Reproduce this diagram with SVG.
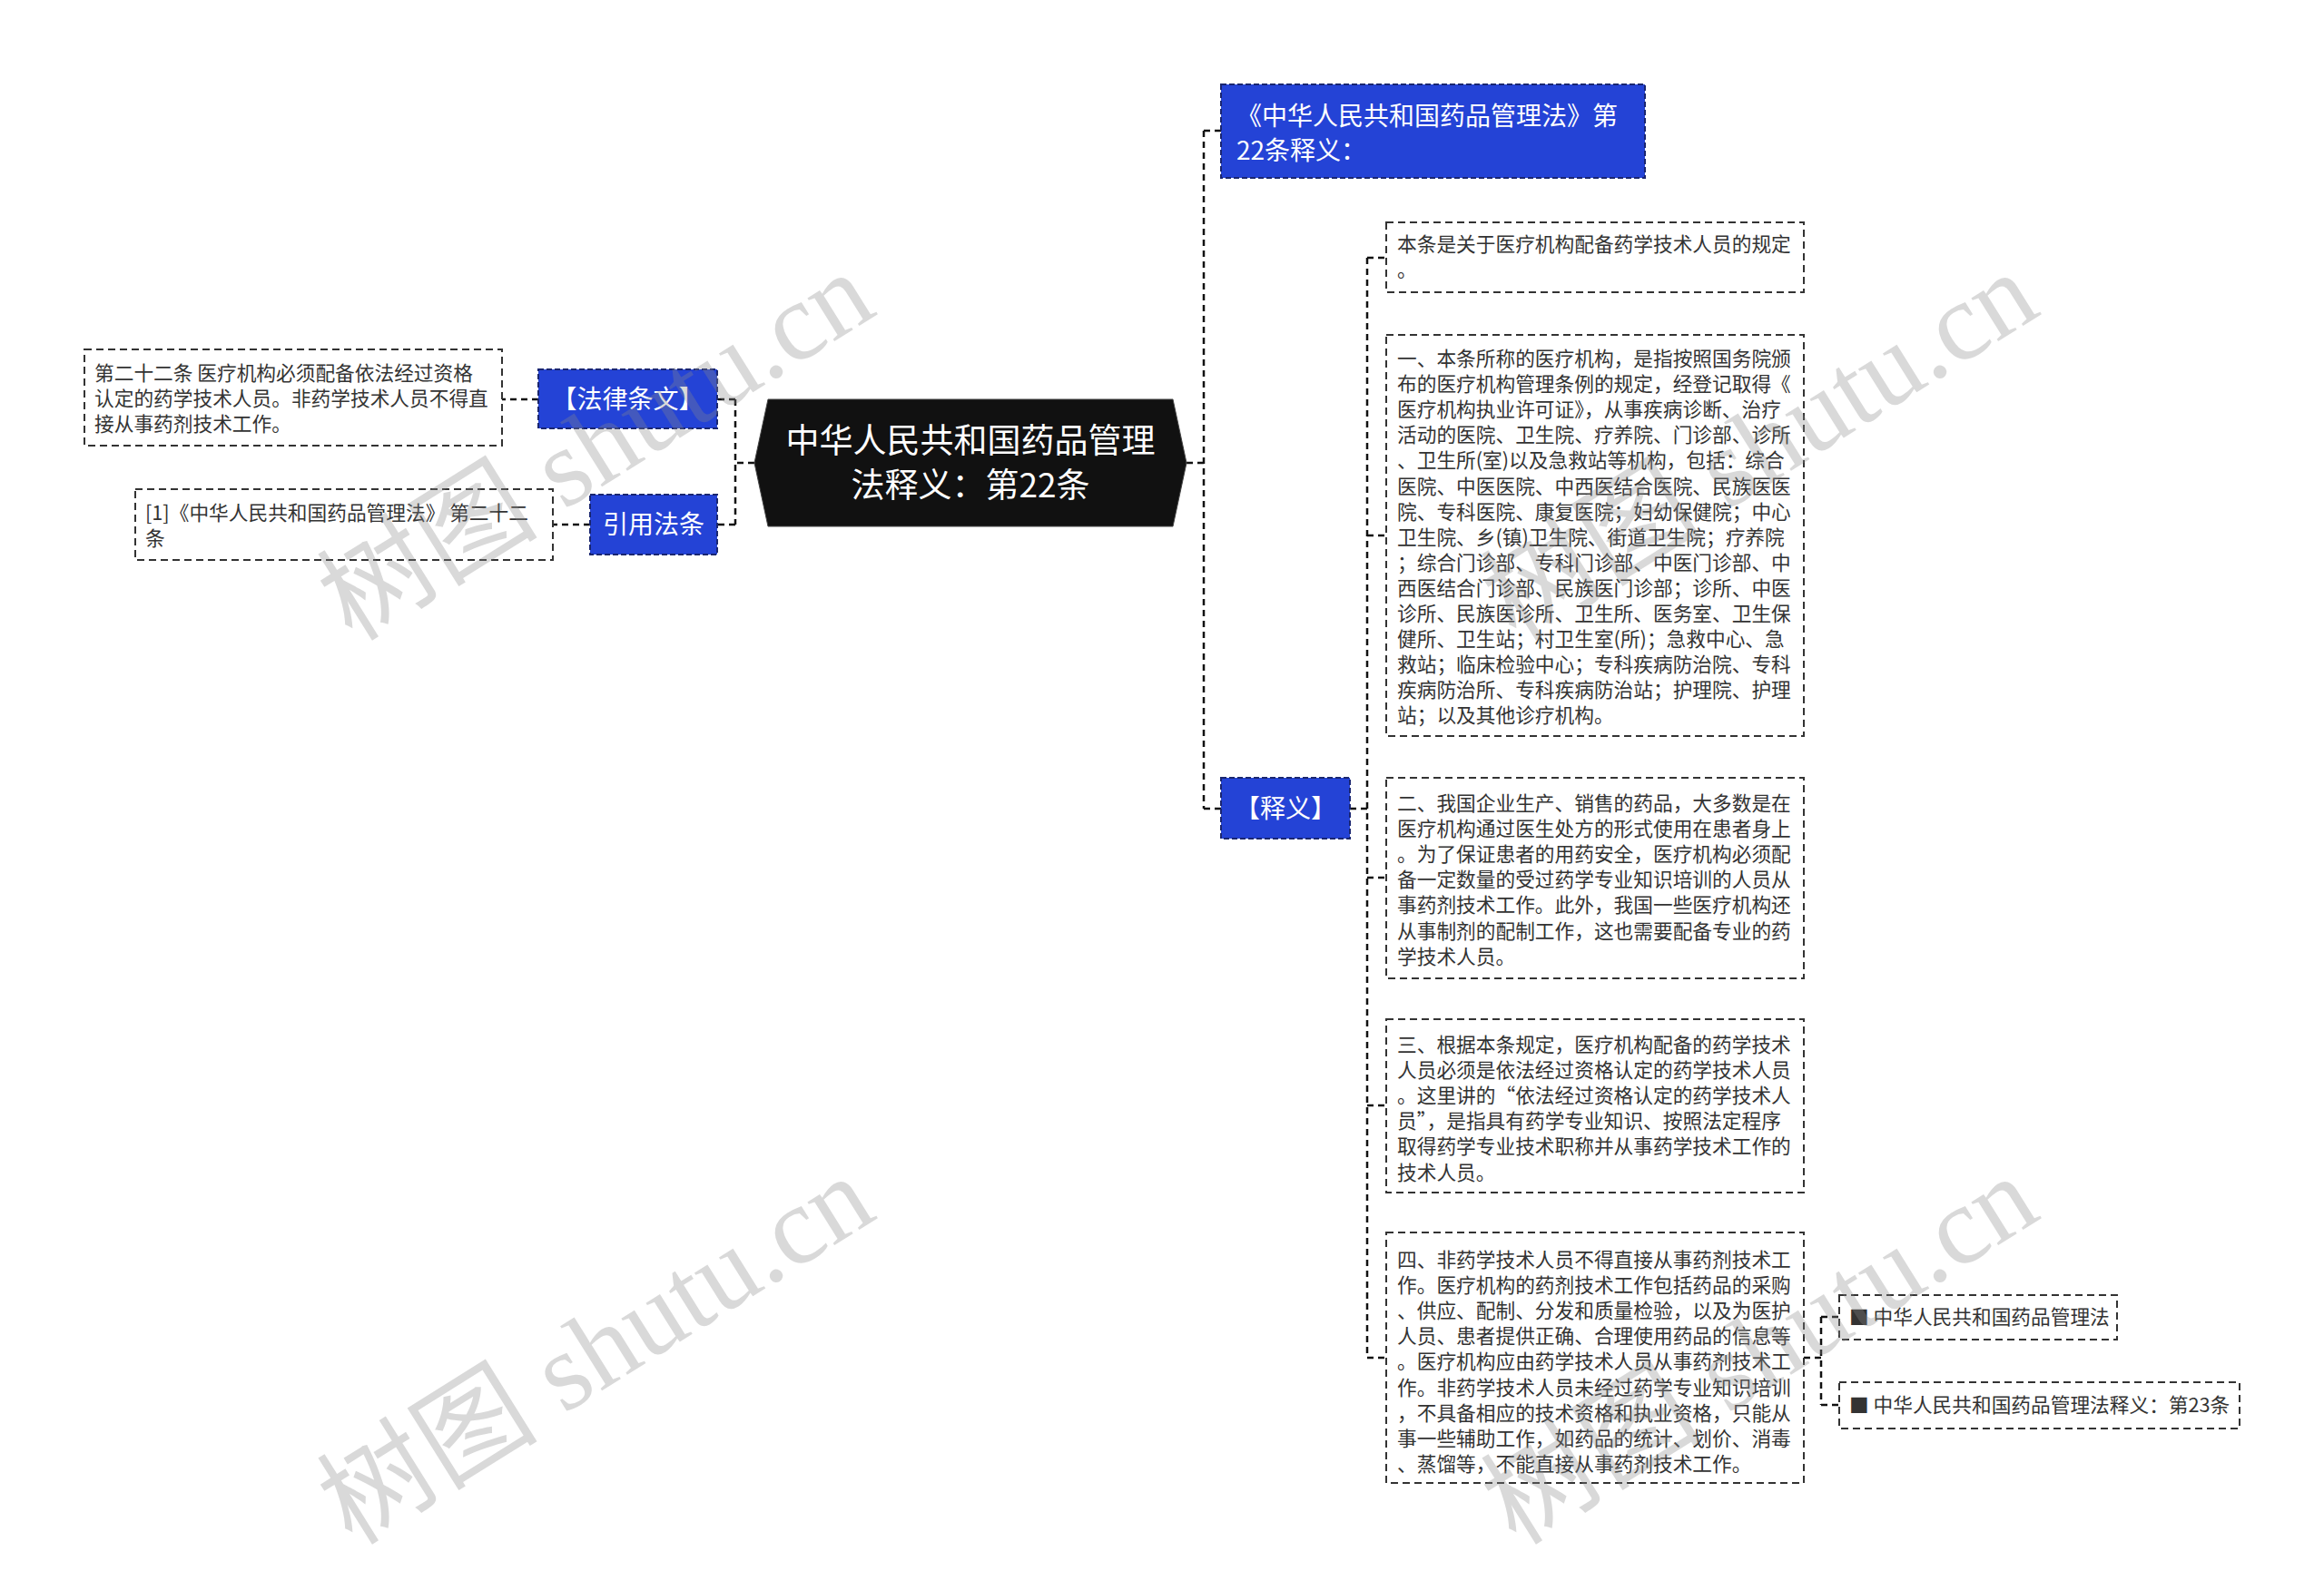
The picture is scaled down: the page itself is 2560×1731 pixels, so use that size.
<svg xmlns="http://www.w3.org/2000/svg" width="2560" height="1731" viewBox="0 0 2560 1731">
<style>
.bg{fill:#ffffff}
.conn{fill:none;stroke:#111;stroke-width:2.5;stroke-dasharray:7 5}
.box{fill:#ffffff;stroke:#333;stroke-width:2;stroke-dasharray:8 5}
.blue{fill:#2443d6;stroke:#1a2670;stroke-width:2;stroke-dasharray:6 3}
.center{fill:#111111;stroke:#444;stroke-width:1}
.t{font-family:"Noto Sans CJK SC","Noto Sans",sans-serif;font-size:21.7px;fill:#333333}
.tw{font-family:"Noto Sans CJK SC","Noto Sans",sans-serif;fill:#ffffff}
.wm{font-family:"Liberation Serif","Noto Sans CJK SC",serif;font-size:122px;fill:#8a8a8a;fill-opacity:0.32}
</style>
<rect class="bg" x="0" y="0" width="2560" height="1731"/>

<g id="connectors">
  <path class="conn" d="M1307 510 H1326 M1326 144 V891 M1326 144 H1345 M1326 891 H1345"/>
  <path class="conn" d="M1487 891 H1506 M1506 284 V1496 M1506 284 H1527 M1506 590 H1527 M1506 967 H1527 M1506 1218 H1527 M1506 1496 H1527"/>
  <path class="conn" d="M1987 1496 H2006 M2006 1451 V1548 M2006 1451 H2026 M2006 1548 H2026"/>
  <path class="conn" d="M831 510 H810 M810 440 V578 M810 440 H790 M810 578 H790"/>
  <path class="conn" d="M593 440 H553 M650 578 H609"/>
</g>

<g id="node-center">
  <polygon class="center" points="846,440 1292,440 1307,510 1292,580 846,580 831,510"/>
  <text class="tw" x="1069" y="499" font-size="37" text-anchor="middle">中华人民共和国药品管理</text>
  <text class="tw" x="1069" y="548" font-size="37" text-anchor="middle">法释义：第22条</text>
</g>

<g id="node-shiyi-title">
  <rect class="blue" x="1345" y="93" width="467" height="103"/>
  <text class="tw" x="1362" y="138" font-size="28">《中华人民共和国药品管理法》第</text>
  <text class="tw" x="1362" y="176" font-size="28">22条释义：</text>
</g>

<g id="node-shiyi">
  <rect class="blue" x="1345" y="857" width="142" height="67"/>
  <text class="tw" x="1416" y="901" font-size="28" text-anchor="middle">【释义】</text>
</g>

<g id="node-falv">
  <rect class="blue" x="593" y="407" width="197" height="65"/>
  <text class="tw" x="691.5" y="450" font-size="28" text-anchor="middle">【法律条文】</text>
</g>

<g id="node-yinyong">
  <rect class="blue" x="650" y="545" width="140" height="66"/>
  <text class="tw" x="720" y="588" font-size="28" text-anchor="middle">引用法条</text>
</g>

<g id="node-falv-text">
  <rect class="box" x="93" y="385" width="460" height="106"/>
  <text class="t" x="104" y="419">第二十二条 医疗机构必须配备依法经过资格</text>
  <text class="t" x="104" y="447">认定的药学技术人员。非药学技术人员不得直</text>
  <text class="t" x="104" y="475">接从事药剂技术工作。</text>
</g>

<g id="node-yinyong-text">
  <rect class="box" x="149" y="539" width="460" height="78"/>
  <text class="t" x="160" y="573">[1]《中华人民共和国药品管理法》 第二十二</text>
  <text class="t" x="160" y="601">条</text>
</g>

<g id="node-a">
  <rect class="box" x="1527" y="245" width="460" height="77"/>
  <text class="t" x="1539" y="277">本条是关于医疗机构配备药学技术人员的规定</text>
  <text class="t" x="1539" y="305">。</text>
</g>

<g id="node-b">
  <rect class="box" x="1527" y="369" width="460" height="442"/>
  <text class="t" x="1539" y="403">一、本条所称的医疗机构，是指按照国务院颁</text>
  <text class="t" x="1539" y="431.1">布的医疗机构管理条例的规定，经登记取得《</text>
  <text class="t" x="1539" y="459.2">医疗机构执业许可证》，从事疾病诊断、治疗</text>
  <text class="t" x="1539" y="487.3">活动的医院、卫生院、疗养院、门诊部、诊所</text>
  <text class="t" x="1539" y="515.4">、卫生所(室)以及急救站等机构，包括：综合</text>
  <text class="t" x="1539" y="543.5">医院、中医医院、中西医结合医院、民族医医</text>
  <text class="t" x="1539" y="571.6">院、专科医院、康复医院；妇幼保健院；中心</text>
  <text class="t" x="1539" y="599.7">卫生院、乡(镇)卫生院、街道卫生院；疗养院</text>
  <text class="t" x="1539" y="627.8">；综合门诊部、专科门诊部、中医门诊部、中</text>
  <text class="t" x="1539" y="655.9">西医结合门诊部、民族医门诊部；诊所、中医</text>
  <text class="t" x="1539" y="684">诊所、民族医诊所、卫生所、医务室、卫生保</text>
  <text class="t" x="1539" y="712.1">健所、卫生站；村卫生室(所)；急救中心、急</text>
  <text class="t" x="1539" y="740.2">救站；临床检验中心；专科疾病防治院、专科</text>
  <text class="t" x="1539" y="768.3">疾病防治所、专科疾病防治站；护理院、护理</text>
  <text class="t" x="1539" y="796.4">站；以及其他诊疗机构。</text>
</g>

<g id="node-c">
  <rect class="box" x="1527" y="857" width="460" height="221"/>
  <text class="t" x="1539" y="893">二、我国企业生产、销售的药品，大多数是在</text>
  <text class="t" x="1539" y="921.1">医疗机构通过医生处方的形式使用在患者身上</text>
  <text class="t" x="1539" y="949.2">。为了保证患者的用药安全，医疗机构必须配</text>
  <text class="t" x="1539" y="977.3">备一定数量的受过药学专业知识培训的人员从</text>
  <text class="t" x="1539" y="1005.4">事药剂技术工作。此外，我国一些医疗机构还</text>
  <text class="t" x="1539" y="1033.5">从事制剂的配制工作，这也需要配备专业的药</text>
  <text class="t" x="1539" y="1061.6">学技术人员。</text>
</g>

<g id="node-d">
  <rect class="box" x="1527" y="1123" width="460" height="191"/>
  <text class="t" x="1539" y="1159">三、根据本条规定，医疗机构配备的药学技术</text>
  <text class="t" x="1539" y="1187.1">人员必须是依法经过资格认定的药学技术人员</text>
  <text class="t" x="1539" y="1215.2">。这里讲的“依法经过资格认定的药学技术人</text>
  <text class="t" x="1539" y="1243.3">员”，是指具有药学专业知识、按照法定程序</text>
  <text class="t" x="1539" y="1271.4">取得药学专业技术职称并从事药学技术工作的</text>
  <text class="t" x="1539" y="1299.5">技术人员。</text>
</g>

<g id="node-e">
  <rect class="box" x="1527" y="1358" width="460" height="276"/>
  <text class="t" x="1539" y="1396">四、非药学技术人员不得直接从事药剂技术工</text>
  <text class="t" x="1539" y="1424.1">作。医疗机构的药剂技术工作包括药品的采购</text>
  <text class="t" x="1539" y="1452.2">、供应、配制、分发和质量检验，以及为医护</text>
  <text class="t" x="1539" y="1480.3">人员、患者提供正确、合理使用药品的信息等</text>
  <text class="t" x="1539" y="1508.4">。医疗机构应由药学技术人员从事药剂技术工</text>
  <text class="t" x="1539" y="1536.5">作。非药学技术人员未经过药学专业知识培训</text>
  <text class="t" x="1539" y="1564.6">，不具备相应的技术资格和执业资格，只能从</text>
  <text class="t" x="1539" y="1592.7">事一些辅助工作，如药品的统计、划价、消毒</text>
  <text class="t" x="1539" y="1620.8">、蒸馏等，不能直接从事药剂技术工作。</text>
</g>

<g id="node-link1">
  <rect class="box" x="2026" y="1427" width="306" height="49"/>
  <text class="t" x="2037" y="1459">■ 中华人民共和国药品管理法</text>
</g>

<g id="node-link2">
  <rect class="box" x="2026" y="1523" width="441" height="51"/>
  <text class="t" x="2037" y="1556">■ 中华人民共和国药品管理法释义：第23条</text>
</g>

<g id="watermarks">
  <text class="wm" transform="translate(388,708) rotate(-32)">树图 shutu.cn</text>
  <text class="wm" transform="translate(1670,708) rotate(-32)">树图 shutu.cn</text>
  <text class="wm" transform="translate(388,1704) rotate(-32)">树图 shutu.cn</text>
  <text class="wm" transform="translate(1670,1704) rotate(-32)">树图 shutu.cn</text>
</g>
</svg>
